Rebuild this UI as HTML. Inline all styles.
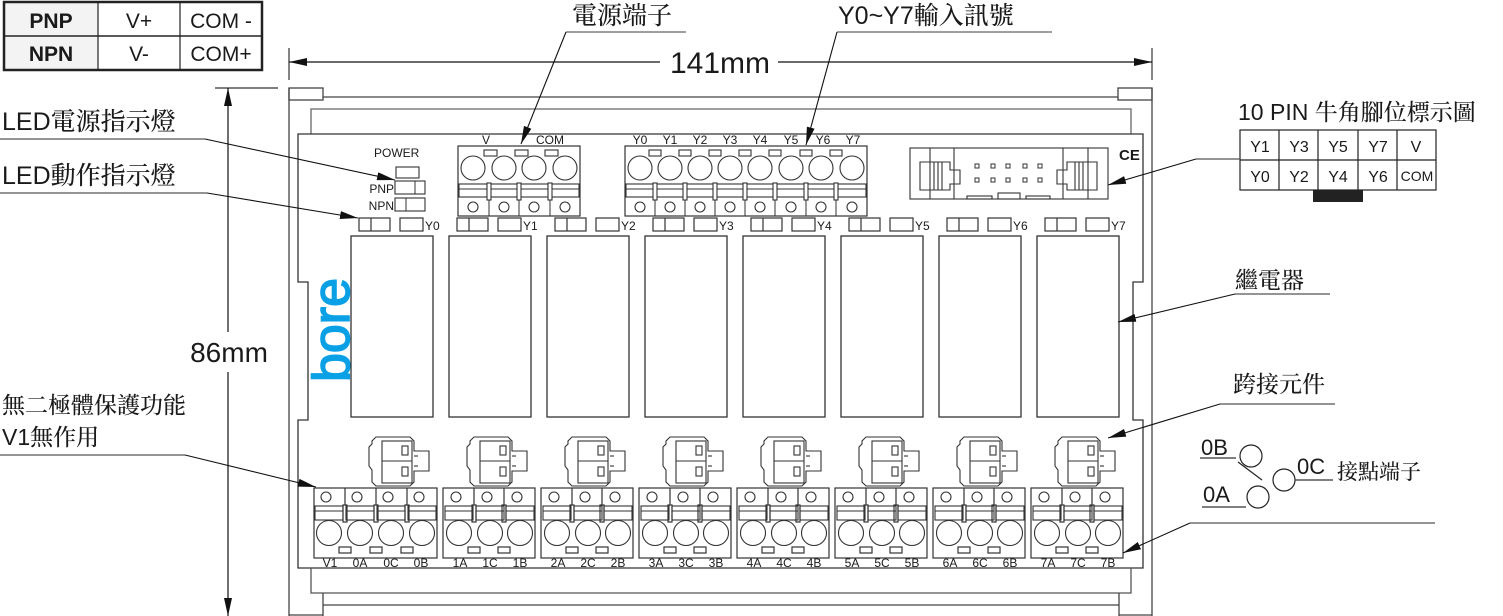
<!DOCTYPE html>
<html><head><meta charset="utf-8"><style>
html,body{margin:0;padding:0;background:#fff;}
svg{display:block;}
text{font-family:"Liberation Sans","Noto Sans CJK TC",sans-serif;fill:#1a1a1a;}
.cj{font-family:"Liberation Sans","Noto Serif CJK SC","Noto Sans CJK TC",serif;font-weight:500;}
</style></head><body>
<svg width="1503" height="616" viewBox="0 0 1503 616" xmlns="http://www.w3.org/2000/svg">
<defs>
<marker id="ar2" markerWidth="18" markerHeight="8" refX="18" refY="4" orient="auto" markerUnits="userSpaceOnUse"><path d="M0,0 L18,4 L0,8 Z" fill="#111"/></marker>
<g id="relay"><rect x="351" y="236" width="82" height="181" fill="none" stroke="#333" stroke-width="1.3"/></g>
<g id="led" fill="none" stroke="#333" stroke-width="1.2"><rect x="359" y="218" width="31" height="13"/><line x1="371" y1="218" x2="371" y2="231"/><rect x="400" y="218" width="23" height="13"/></g>
<g id="tp" fill="none" stroke="#333" stroke-width="1.1"><circle cx="0" cy="168" r="12"/><rect x="-14" y="184" width="28" height="13"/><line x1="-14" y1="189" x2="14" y2="189"/><circle cx="0" cy="207" r="5"/></g>
<g id="bp" fill="none" stroke="#333" stroke-width="1.1"><circle cx="-3" cy="497" r="5"/><rect x="-14" y="506" width="28" height="14"/><line x1="-14" y1="511" x2="14" y2="511"/><circle cx="0" cy="533" r="12.5"/></g>
<g id="jm" fill="none" stroke="#333" stroke-width="1.1"><path d="M376,437 H410 L414,441 V451 H429 V471 H414 V482 L410,486 H376 L372,482 V470 L369,466 V447 L372,444 V441 Z"/><rect x="382" y="441" width="30" height="42"/><line x1="382" y1="461" x2="412" y2="461"/><rect x="402" y="446" width="6" height="9"/><rect x="402" y="467" width="6" height="9"/><line x1="414" y1="456" x2="418" y2="456"/><line x1="414" y1="466" x2="418" y2="466"/></g>
<g id="b3" fill="none" stroke="#333" stroke-width="1.2"><rect x="443" y="488" width="92" height="70"/><line x1="474" y1="488" x2="474" y2="506"/><line x1="504" y1="488" x2="504" y2="506"/><rect x="472" y="505" width="4" height="17" fill="#fff"/><rect x="502" y="505" width="4" height="17" fill="#fff"/><rect x="468" y="547" width="12" height="6"/><rect x="498" y="547" width="12" height="6"/></g>
</defs>

<rect x="4" y="2" width="94" height="68" fill="#f3f3f3"/>
<rect x="4" y="2" width="258" height="68" fill="none" stroke="#222" stroke-width="2.5"/>
<line x1="4" y1="36" x2="262" y2="36" stroke="#222" stroke-width="1.5"/>
<line x1="98" y1="2" x2="98" y2="70" stroke="#222" stroke-width="1.2"/>
<line x1="180" y1="2" x2="180" y2="70" stroke="#222" stroke-width="1.2"/>
<text x="51" y="28" font-size="21" font-weight="bold" text-anchor="middle">PNP</text>
<text x="51" y="61" font-size="21" font-weight="bold" text-anchor="middle">NPN</text>
<text x="139" y="28" font-size="21" text-anchor="middle">V+</text>
<text x="139" y="61" font-size="21" text-anchor="middle">V-</text>
<text x="221" y="28" font-size="21" text-anchor="middle">COM -</text>
<text x="221" y="61" font-size="21" text-anchor="middle">COM+</text>

<line x1="289" y1="48" x2="289" y2="80" stroke="#333" stroke-width="1.2"/>
<line x1="1152" y1="48" x2="1152" y2="80" stroke="#333" stroke-width="1.2"/>
<line x1="660" y1="62" x2="289" y2="62" stroke="#111" stroke-width="1.2" marker-end="url(#ar2)"/>
<line x1="778" y1="62" x2="1152" y2="62" stroke="#111" stroke-width="1.2" marker-end="url(#ar2)"/>
<text x="720" y="73" font-size="30" text-anchor="middle">141mm</text>
<line x1="215" y1="88" x2="278" y2="88" stroke="#333" stroke-width="1.2"/>
<line x1="228" y1="332" x2="228" y2="88" stroke="#111" stroke-width="1.2" marker-end="url(#ar2)"/>
<line x1="228" y1="372" x2="228" y2="616" stroke="#111" stroke-width="1.2" marker-end="url(#ar2)"/>
<text x="229" y="362" font-size="28" text-anchor="middle">86mm</text>

<g fill="none" stroke="#444" stroke-width="1.3">
<line x1="289" y1="88" x2="289" y2="616"/>
<line x1="1152" y1="88" x2="1152" y2="616"/>
<rect x="289" y="88" width="34" height="12"/>
<rect x="1118" y="88" width="34" height="12"/>
<line x1="323" y1="97" x2="1118" y2="97"/>
<path d="M311,134 V109 H1131 V134" stroke="#666"/>
<path d="M298,134 H1143 V282 H1133 V420 H1143 V568 H298 V420 H308 V282 H298 Z" stroke="#333"/>
<path d="M311,568 V593 H1131 V568" stroke="#555"/>
<path d="M323,593 V616 M1119,593 V616 M323,605 H1119 M289,615 H323 M1119,615 H1152"/>
</g>

<text transform="translate(349,330) rotate(-90)" font-size="52" text-anchor="middle" style="fill:#0aa0e6;stroke:#0aa0e6;stroke-width:1.6">bore</text>
<text x="1119" y="160" font-size="15" font-weight="bold">CE</text>

<text x="374" y="157" font-size="12">POWER</text>
<rect x="396" y="167" width="23" height="11" fill="none" stroke="#333" stroke-width="1.1"/>
<text x="394" y="193" font-size="12" text-anchor="end">PNP</text>
<rect x="395" y="181" width="30" height="13" fill="none" stroke="#333" stroke-width="1.1"/><line x1="415" y1="181" x2="415" y2="194" stroke="#333"/>
<text x="394" y="210" font-size="12" text-anchor="end">NPN</text>
<rect x="395" y="198" width="30" height="13" fill="none" stroke="#333" stroke-width="1.1"/><line x1="406" y1="198" x2="406" y2="211" stroke="#333"/>

<rect x="458" y="146" width="122" height="70" fill="none" stroke="#333" stroke-width="1.2"/>
<use href="#tp" x="473"/><use href="#tp" x="504"/><use href="#tp" x="534"/><use href="#tp" x="565"/>
<g fill="#fff" stroke="#333" stroke-width="1.1">
<rect x="484" y="150" width="13" height="6"/><rect x="515" y="150" width="13" height="6"/><rect x="545" y="150" width="13" height="6"/>
<rect x="487" y="183" width="4" height="17"/><rect x="517" y="183" width="4" height="17"/><rect x="548" y="183" width="4" height="17"/>
</g>
<path d="M489,200 V216 M519,200 V216 M550,200 V216" stroke="#333"/>
<text x="486" y="144" font-size="12" text-anchor="middle">V</text>
<text x="550" y="144" font-size="12" text-anchor="middle">COM</text>

<rect x="625" y="146" width="242" height="70" fill="none" stroke="#333" stroke-width="1.2"/>
<use href="#tp" x="640"/><use href="#tp" x="670"/><use href="#tp" x="700"/><use href="#tp" x="730"/><use href="#tp" x="760"/><use href="#tp" x="791"/><use href="#tp" x="821"/><use href="#tp" x="852"/>
<g fill="#fff" stroke="#333" stroke-width="1.1">
<rect x="649" y="150" width="12" height="6"/><rect x="679" y="150" width="12" height="6"/><rect x="709" y="150" width="12" height="6"/><rect x="739" y="150" width="12" height="6"/><rect x="769" y="150" width="12" height="6"/><rect x="800" y="150" width="12" height="6"/><rect x="830" y="150" width="12" height="6"/>
<rect x="653" y="183" width="4" height="17"/><rect x="683" y="183" width="4" height="17"/><rect x="713" y="183" width="4" height="17"/><rect x="743" y="183" width="4" height="17"/><rect x="773" y="183" width="4" height="17"/><rect x="804" y="183" width="4" height="17"/><rect x="834" y="183" width="4" height="17"/>
</g>
<path d="M655,200 V216 M685,200 V216 M715,200 V216 M745,200 V216 M775,200 V216 M806,200 V216 M836,200 V216" stroke="#333"/>
<g font-size="12" text-anchor="middle">
<text x="640" y="144">Y0</text><text x="670" y="144">Y1</text><text x="700" y="144">Y2</text><text x="730" y="144">Y3</text><text x="760" y="144">Y4</text><text x="791" y="144">Y5</text><text x="823" y="144">Y6</text><text x="853" y="144">Y7</text>
</g>

<g fill="none" stroke="#333" stroke-width="1.1">
<rect x="910" y="148" width="198" height="51"/>
<path d="M930,148 V199 M954,148 V199 M1063,148 V199 M1088,148 V199"/>
<path d="M920,162 H950 V170 H960 V184 H950 V190 H920 Z M934,162 V190 M938,162 V190 M942,162 V190"/>
<path d="M1097,162 H1067 V170 H1057 V184 H1067 V190 H1097 Z M1083,162 V190 M1079,162 V190 M1075,162 V190"/>
<rect x="967" y="196" width="25" height="3"/><rect x="998" y="193" width="22" height="6"/><rect x="1026" y="196" width="24" height="3"/>
</g>
<g fill="none" stroke="#333" stroke-width="1">
<rect x="975" y="164" width="4" height="4"/><rect x="991" y="164" width="4" height="4"/><rect x="1006" y="164" width="4" height="4"/><rect x="1023" y="164" width="4" height="4"/><rect x="1038" y="164" width="4" height="4"/>
<rect x="975" y="178" width="4" height="4"/><rect x="991" y="178" width="4" height="4"/><rect x="1006" y="178" width="4" height="4"/><rect x="1023" y="178" width="4" height="4"/><rect x="1038" y="178" width="4" height="4"/>
</g>

<use href="#led"/><use href="#led" x="98"/><use href="#led" x="196"/><use href="#led" x="294"/><use href="#led" x="392"/><use href="#led" x="490"/><use href="#led" x="588"/><use href="#led" x="686"/>
<g font-size="12">
<text x="425" y="230">Y0</text><text x="523" y="230">Y1</text><text x="621" y="230">Y2</text><text x="719" y="230">Y3</text><text x="817" y="230">Y4</text><text x="915" y="230">Y5</text><text x="1013" y="230">Y6</text><text x="1111" y="230">Y7</text>
</g>
<use href="#relay"/><use href="#relay" x="98"/><use href="#relay" x="196"/><use href="#relay" x="294"/><use href="#relay" x="392"/><use href="#relay" x="490"/><use href="#relay" x="588"/><use href="#relay" x="686"/>

<use href="#jm"/><use href="#jm" x="98"/><use href="#jm" x="196"/><use href="#jm" x="294"/><use href="#jm" x="392"/><use href="#jm" x="490"/><use href="#jm" x="588"/><use href="#jm" x="686"/>

<g fill="none" stroke="#333" stroke-width="1.2">
<rect x="314" y="488" width="123" height="70"/>
<path d="M345,488 V506 M376,488 V506 M407,488 V506"/>
<rect x="343" y="505" width="4" height="17" fill="#fff"/><rect x="374" y="505" width="4" height="17" fill="#fff"/><rect x="405" y="505" width="4" height="17" fill="#fff"/>
<rect x="339" y="547" width="12" height="6"/><rect x="370" y="547" width="12" height="6"/><rect x="401" y="547" width="12" height="6"/>
</g>
<use href="#bp" x="329"/><use href="#bp" x="360"/><use href="#bp" x="391"/><use href="#bp" x="422"/>
<use href="#b3"/><use href="#b3" x="98"/><use href="#b3" x="196"/><use href="#b3" x="294"/><use href="#b3" x="392"/><use href="#b3" x="490"/><use href="#b3" x="588"/>
<use href="#bp" x="459"/><use href="#bp" x="490"/><use href="#bp" x="520"/>
<use href="#bp" x="557"/><use href="#bp" x="588"/><use href="#bp" x="618"/>
<use href="#bp" x="655"/><use href="#bp" x="686"/><use href="#bp" x="716"/>
<use href="#bp" x="753"/><use href="#bp" x="784"/><use href="#bp" x="814"/>
<use href="#bp" x="851"/><use href="#bp" x="882"/><use href="#bp" x="912"/>
<use href="#bp" x="949"/><use href="#bp" x="980"/><use href="#bp" x="1010"/>
<use href="#bp" x="1047"/><use href="#bp" x="1078"/><use href="#bp" x="1108"/>
<g font-size="12" text-anchor="middle">
<text x="330" y="567">V1</text><text x="360" y="567">0A</text><text x="391" y="567">0C</text><text x="421" y="567">0B</text>
<text x="460" y="567">1A</text><text x="490" y="567">1C</text><text x="520" y="567">1B</text>
<text x="558" y="567">2A</text><text x="588" y="567">2C</text><text x="618" y="567">2B</text>
<text x="656" y="567">3A</text><text x="686" y="567">3C</text><text x="716" y="567">3B</text>
<text x="754" y="567">4A</text><text x="784" y="567">4C</text><text x="814" y="567">4B</text>
<text x="852" y="567">5A</text><text x="882" y="567">5C</text><text x="912" y="567">5B</text>
<text x="950" y="567">6A</text><text x="980" y="567">6C</text><text x="1010" y="567">6B</text>
<text x="1048" y="567">7A</text><text x="1078" y="567">7C</text><text x="1108" y="567">7B</text>
</g>

<text x="2" y="130" font-size="25" class="cj">LED電源指示燈</text>
<path d="M0,139 H205" stroke="#555" stroke-width="1.3"/>
<line x1="205" y1="139" x2="395" y2="180" stroke="#111" stroke-width="1.1" marker-end="url(#ar2)"/>
<text x="2" y="184" font-size="25" class="cj">LED動作指示燈</text>
<path d="M0,193 H207" stroke="#555" stroke-width="1.3"/>
<line x1="207" y1="193" x2="358" y2="218" stroke="#111" stroke-width="1.1" marker-end="url(#ar2)"/>
<text x="2" y="413" font-size="23" class="cj">無二極體保護功能</text>
<text x="2" y="445" font-size="23" class="cj">V1無作用</text>
<path d="M0,455 H185" stroke="#555" stroke-width="1.3"/>
<line x1="185" y1="455" x2="316" y2="487" stroke="#111" stroke-width="1.1" marker-end="url(#ar2)"/>

<text x="572" y="24" font-size="25" class="cj">電源端子</text>
<path d="M566,32 H686" stroke="#666" stroke-width="1.3"/>
<line x1="566" y1="32" x2="521" y2="144" stroke="#111" stroke-width="1.1" marker-end="url(#ar2)"/>
<text x="838" y="24" font-size="25" class="cj">Y0~Y7輸入訊號</text>
<path d="M837,32 H1052" stroke="#666" stroke-width="1.3"/>
<line x1="837" y1="32" x2="806" y2="145" stroke="#111" stroke-width="1.1" marker-end="url(#ar2)"/>

<text x="1238" y="120" font-size="23" class="cj">10 PIN 牛角腳位標示圖</text>
<g fill="none" stroke="#222" stroke-width="1.2">
<rect x="1240" y="130" width="196" height="60"/>
<path d="M1240,160 H1436 M1279,130 V190 M1318,130 V190 M1358,130 V190 M1397,130 V190"/>
</g>
<rect x="1313" y="190" width="50" height="12" fill="#222"/>
<g font-size="16" text-anchor="middle">
<text x="1260" y="152">Y1</text><text x="1299" y="152">Y3</text><text x="1338" y="152">Y5</text><text x="1378" y="152">Y7</text><text x="1416" y="152">V</text>
<text x="1260" y="182">Y0</text><text x="1299" y="182">Y2</text><text x="1338" y="182">Y4</text><text x="1378" y="182">Y6</text><text x="1417" y="181" font-size="14">COM</text>
</g>
<path d="M1196,159 H1240" stroke="#555" stroke-width="1.2"/>
<line x1="1196" y1="159" x2="1108" y2="185" stroke="#111" stroke-width="1.1" marker-end="url(#ar2)"/>

<text x="1235" y="288" font-size="23" class="cj">繼電器</text>
<path d="M1235,294 H1330" stroke="#555" stroke-width="1.3"/>
<line x1="1235" y1="294" x2="1118" y2="322" stroke="#111" stroke-width="1.1" marker-end="url(#ar2)"/>
<text x="1233" y="392" font-size="23" class="cj">跨接元件</text>
<path d="M1220,404 H1335" stroke="#555" stroke-width="1.3"/>
<line x1="1220" y1="404" x2="1108" y2="438" stroke="#111" stroke-width="1.1" marker-end="url(#ar2)"/>

<text x="1201" y="455" font-size="22">0B</text>
<path d="M1200,458 H1236" stroke="#333" stroke-width="1.3"/>
<circle cx="1251" cy="456" r="11" fill="none" stroke="#222" stroke-width="1.2"/>
<line x1="1238" y1="462" x2="1262" y2="480" stroke="#222" stroke-width="1.2"/>
<circle cx="1284" cy="480" r="11" fill="none" stroke="#222" stroke-width="1.2"/>
<path d="M1295,480 H1333" stroke="#333" stroke-width="1.3"/>
<text x="1297" y="474" font-size="22">0C</text>
<text x="1337" y="479" font-size="21" class="cj">接點端子</text>
<text x="1203" y="502" font-size="22">0A</text>
<path d="M1202,507 H1246" stroke="#333" stroke-width="1.3"/>
<circle cx="1258" cy="497" r="11" fill="none" stroke="#222" stroke-width="1.2"/>
<path d="M1190,523 H1435" stroke="#555" stroke-width="1.3"/>
<line x1="1190" y1="523" x2="1123" y2="553" stroke="#111" stroke-width="1.1" marker-end="url(#ar2)"/>
</svg>
</body></html>
